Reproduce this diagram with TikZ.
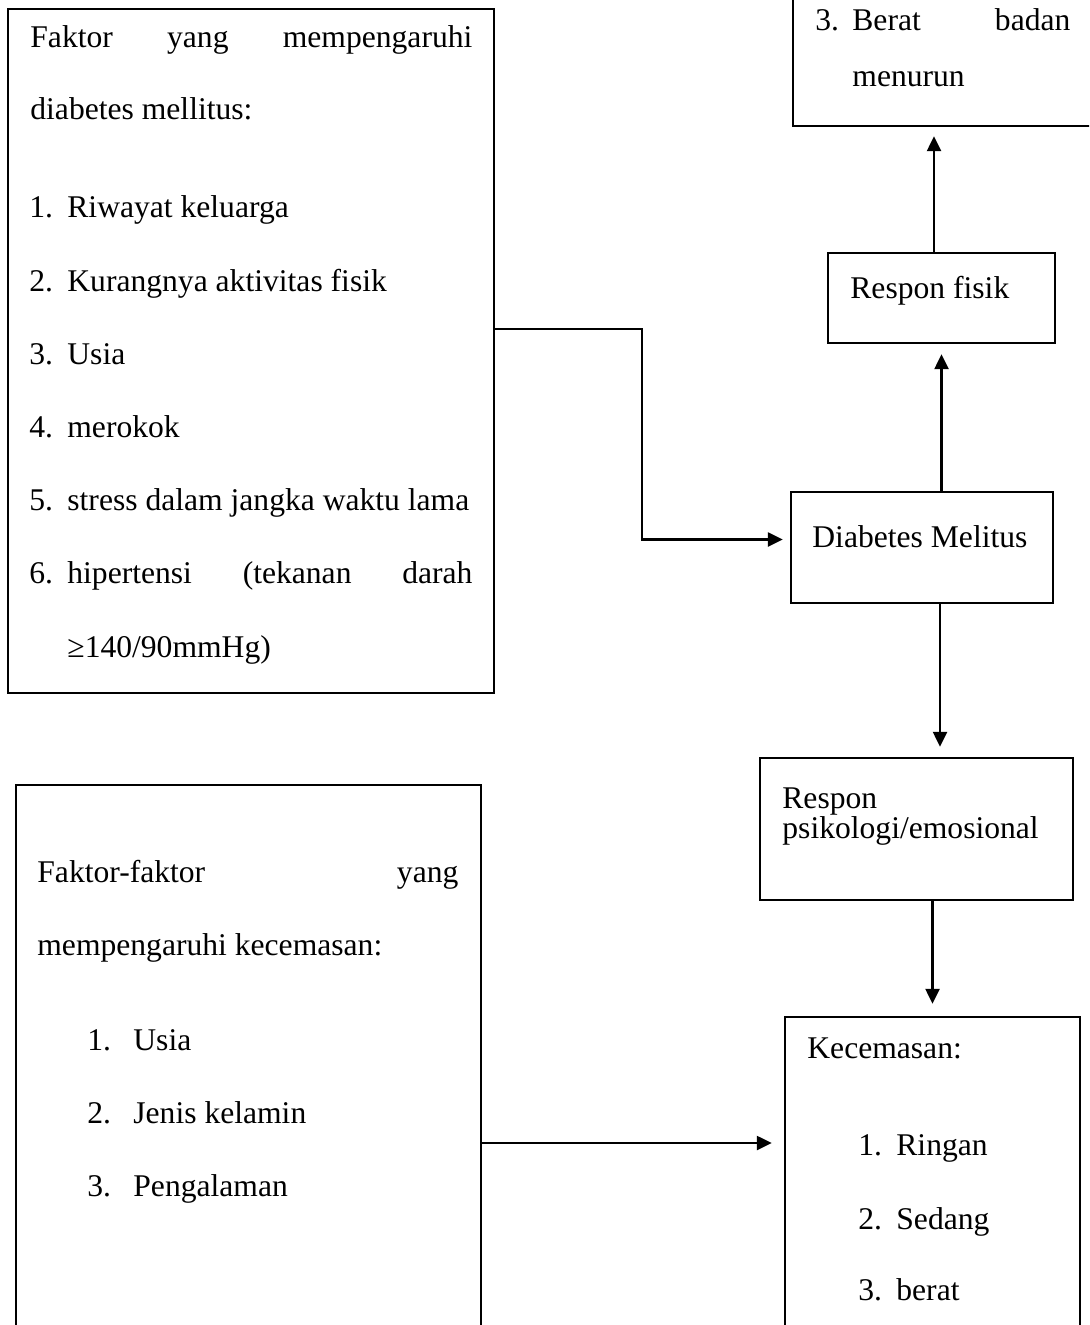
\documentclass[tikz,border=0pt]{standalone}
\usepackage{fontspec}
\setmainfont{Liberation Serif}
\usetikzlibrary{arrows.meta,fit}
\begin{document}
\begin{tikzpicture}[x=0.5pt,y=-0.5pt,
  box/.style={draw,line width=1.2pt,inner sep=0pt},
  txt/.style={anchor=base west,inner sep=0pt,font=\fontsize{15.8}{19}\selectfont},
  arr/.style={line width=1.2pt,-{Triangle[length=7.5pt,width=7pt]}}]
\useasboundingbox (0,0) rectangle (1089,1325);
\clip (0,0) rectangle (1089,1325);
% boxes
\node[box,fit={(8,9) (494,693)}] (f1) {};
\node[box,fit={(793,-60) (1120,126)}] (top) {};
\node[box,fit={(828,253) (1055,343)}] (rf) {};
\node[box,fit={(791,492) (1053,603)}] (dm) {};
\node[box,fit={(760,758) (1073,900)}] (rp) {};
\node[box,fit={(785,1017) (1080,1420)}] (kc) {};
\node[box,fit={(16,785) (481,1501)}] (f2) {};
% box 1 text
\node[txt] (a1) at (30,48) {\hbox to 221pt{Faktor\hfill yang\hfill mempengaruhi}};
\node[txt] (a2) at (30,120) {diabetes mellitus:};
\node[txt] (n1) at (29,218) {1.};
\node[txt] (i1) at (67,218) {Riwayat keluarga};
\node[txt] (n2) at (29,292) {2.};
\node[txt] (i2) at (67,292) {Kurangnya aktivitas fisik};
\node[txt] (n3) at (29,365) {3.};
\node[txt] (i3) at (67,365) {Usia};
\node[txt] (n4) at (29,438) {4.};
\node[txt] (i4) at (67,438) {merokok};
\node[txt] (n5) at (29,510) {5.};
\node[txt] (i5) at (67,510) {stress dalam jangka waktu lama};
\node[txt] (n6) at (29,583) {6.};
\node[txt] (i6) at (67,583) {\hbox to 202.5pt{hipertensi\hfill(tekanan\hfill darah}};
\node[txt] (i7) at (67,657) {≥140/90mmHg)};
% top box text
\node[txt] (b1) at (815,31) {3.};
\node[txt] (b2) at (852,31) {\hbox to 109pt{Berat\hfill badan}};
\node[txt] (b3) at (852,87) {menurun};
% other boxes text
\node[txt] (c1) at (850,299) {Respon fisik};
\node[txt] (d1) at (812,547) {Diabetes Melitus};
\node[txt] (e1) at (782,808) {Respon};
\node[txt] (e2) at (782,838) {psikologi/emosional};
\node[txt] (k0) at (807,1058) {Kecemasan:};
\node[txt] (k1n) at (858,1155) {1.};
\node[txt] (k1) at (896,1155) {Ringan};
\node[txt] (k2n) at (858,1229) {2.};
\node[txt] (k2) at (896,1229) {Sedang};
\node[txt] (k3n) at (858,1300) {3.};
\node[txt] (k3) at (896,1300) {berat};
% box 2 text
\node[txt] (g1) at (37,882) {\hbox to 210.5pt{Faktor-faktor\hfill yang}};
\node[txt] (g2) at (37,955) {mempengaruhi kecemasan:};
\node[txt] (h1n) at (87,1050) {1.};
\node[txt] (h1) at (133,1050) {Usia};
\node[txt] (h2n) at (87,1123) {2.};
\node[txt] (h2) at (133,1123) {Jenis kelamin};
\node[txt] (h3n) at (87,1196) {3.};
\node[txt] (h3) at (133,1196) {Pengalaman};
% connectors
\draw[arr,shorten >=3.5pt] ([yshift=11pt]f1.east) -- ++(147,0) |- ([yshift=4pt]dm.west);
\draw[arr,shorten >=5pt] (dm.north -| rf.south) -- (rf.south);
\draw[arr,shorten >=4.5pt] ([xshift=-3.75pt]rf.north) -- ([xshift=-3.75pt]rf.north |- top.south);
\draw[arr,shorten >=5pt] ([xshift=9pt]dm.south) -- ([xshift=9pt]dm.south |- rp.north);
\draw[arr,shorten >=6pt] (rp.south -| kc.north) -- (kc.north);
\draw[arr,shorten >=6pt] (f2.east) -- (f2.east -| kc.west);
\end{tikzpicture}
\end{document}
